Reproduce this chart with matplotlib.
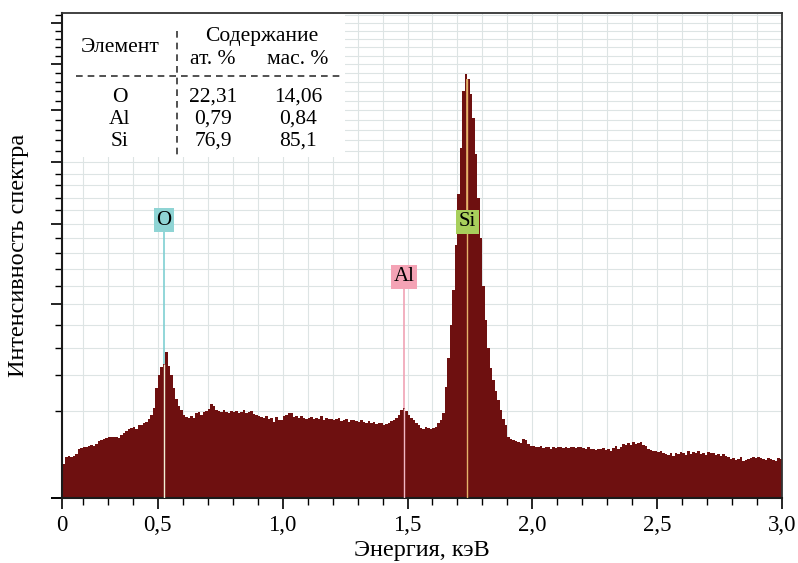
import numpy as np
import matplotlib.pyplot as plt
from matplotlib.patches import Rectangle
from matplotlib.lines import Line2D
from matplotlib.ticker import FixedLocator, MultipleLocator

plt.rcParams['font.family'] = ['Liberation Serif', 'DejaVu Serif']

# spectrum: counts per 0.01 keV bin, first bin starts at 0.11 keV
bin_start = 0.11
bin_width = 0.01
counts = [
    24, 30, 44, 46, 45, 47, 52, 64, 66,
    68, 70, 71, 74, 73, 77, 86, 91, 92, 95,
    99, 98, 100, 99, 97, 104, 113, 118, 126, 130,
    134, 128, 140, 142, 148, 155, 165, 185, 215, 320,
    400, 455, 480, 567, 460, 400, 320, 260, 225, 205,
    185, 176, 172, 180, 172, 190, 197, 185, 195, 200,
    210, 235, 225, 205, 200, 197, 205, 198, 192, 200,
    195, 200, 192, 197, 205, 190, 198, 200, 188, 182,
    180, 176, 170, 180, 168, 172, 155, 175, 160, 162,
    178, 185, 190, 193, 175, 180, 170, 178, 172, 168,
    170, 175, 165, 172, 168, 178, 162, 170, 165, 168,
    160, 166, 170, 158, 162, 168, 155, 160, 163, 158,
    155, 160, 152, 150, 156, 148, 152, 146, 150, 148,
    142, 145, 150, 158, 162, 170, 185, 205, 215, 200,
    185, 170, 160, 150, 140, 130, 128, 135, 132, 128,
    130, 135, 150, 162, 190, 330, 520, 800, 1150, 1700,
    2450, 3250, 4400, 4780, 4680, 4350, 3850, 3150, 2400, 1800,
    1200, 840, 600, 450, 370, 305, 255, 205, 168, 140,
    100, 92, 88, 86, 84, 80, 92, 88, 78, 72,
    72, 70, 68, 72, 66, 70, 68, 65, 70, 67,
    68, 70, 66, 69, 67, 70, 68, 66, 70, 69,
    66, 64, 68, 63, 65, 62, 64, 63, 66, 62,
    64, 60, 66, 72, 65, 70, 78, 75, 80, 76,
    82, 78, 80, 84, 76, 72, 64, 62, 60, 58,
    56, 60, 54, 52, 50, 55, 48, 54, 52, 56,
    54, 50, 58, 52, 56, 54, 58, 52, 55, 50,
    57, 53, 55, 50, 52, 48, 51, 47, 44, 40,
    42, 38, 40, 44, 36, 38, 40, 42, 45, 43,
    45, 42, 40, 38, 42, 40, 38, 36, 42, 40,
]

# element lines: name, energy (keV), label height (counts), colours
elements = ['O', 'Al', 'Si']
line_energy = [0.525, 1.486, 1.74]
label_y = [2055, 1300, 2026]
box_colors = ['#8fd4d4', '#f4a3b5', '#a8cf5c']
line_colors = ['#7fcfd2', '#f0a3b5', '#e2b26a']
inner_colors = ['#f3efd6', '#f2b7c4', '#e6b36a']

# table
tab_elements = ['O', 'Al', 'Si']
tab_at = ['22,31', '0,79', '76,9']
tab_mas = ['14,06', '0,84', '85,1']

xtick_vals = [0.116, 0.5, 1.0, 1.5, 2.0, 2.5, 3.0]
xtick_labels = ['0', '0,5', '1,0', '1,5', '2,0', '2,5', '3,0']

counts = np.array(counts, dtype=float)
edges = bin_start + bin_width * np.arange(len(counts) + 1)

fig = plt.figure(figsize=(7.98, 5.63), dpi=100)
ax = fig.add_axes([62 / 798, 1 - 498 / 563, 720 / 798, 485 / 563])

ax.set_yscale('function', functions=(lambda v: np.sqrt(np.clip(v, 0, None)), np.square))
ax.set_xlim(0.116, 3.0)
ax.set_ylim(0, 6256)

ax.stairs(counts, edges, fill=True, color='#6e1010', zorder=2)

for name, e, ly, bc, lc, ic in zip(elements, line_energy, label_y, box_colors, line_colors, inner_colors):
    i = int((e - bin_start) / bin_width)
    ax.vlines(e, counts[i], ly, color=lc, lw=1.2, zorder=3)
    ax.vlines(e, 0, counts[i], color=ic, lw=1.0, zorder=3)
    ax.text(e, ly, name, ha='center', va='center', fontsize=15, zorder=4,
            bbox=dict(boxstyle='square,pad=0.12', fc=bc, ec='none'))

# axes styling
ax.xaxis.set_major_locator(FixedLocator(xtick_vals))
ax.set_xticklabels(xtick_labels)
ax.xaxis.set_minor_locator(FixedLocator(np.arange(2, 30) / 10))
ax.yaxis.set_major_locator(MultipleLocator(1000))
ax.yaxis.set_minor_locator(MultipleLocator(200))
ax.set_yticklabels([])
ax.tick_params(axis='both', which='major', direction='out', length=8, width=1.2, labelsize=16.5)
ax.tick_params(axis='both', which='minor', direction='out', length=5, width=1.0)
ax.tick_params(axis='x', pad=4)
ax.grid(True, which='both', color='#dde4e4', lw=0.8)
ax.set_axisbelow(True)
for s in ['left', 'bottom']:
    ax.spines[s].set_linewidth(1.5)
    ax.spines[s].set_color('#1a1a1a')
for s in ['top', 'right']:
    ax.spines[s].set_linewidth(1.3)
    ax.spines[s].set_color('#333333')

ax.set_xlabel('Энергия, кэВ', fontsize=17.5, labelpad=3)
ax.set_ylabel('Интенсивность спектра', fontsize=17.5, labelpad=12)

# composition table in the upper-left corner
def fx(px):
    return px / 798

def fy(py):
    return 1 - py / 563

ax.add_patch(Rectangle((fx(63), fy(157)), fx(282), 143 / 563, transform=fig.transFigure,
                       fc='white', ec='none', zorder=2.5))
fig.add_artist(Line2D([fx(76), fx(340)], [fy(76), fy(76)], color='#333333', lw=1.2,
                      dashes=(4, 3)))
fig.add_artist(Line2D([fx(177), fx(177)], [fy(31), fy(156)], color='#333333', lw=1.2,
                      dashes=(4, 3)))
tkw = dict(ha='center', va='center', fontsize=15.5)
fig.text(fx(120), fy(47), 'Элемент', **tkw)
fig.text(fx(262), fy(37), 'Содержание', **tkw)
fig.text(fx(213), fy(60), 'ат. %', **tkw)
fig.text(fx(298), fy(60), 'мас. %', **tkw)
for k in range(len(tab_elements)):
    yy = fy(97 + 22 * k)
    fig.text(fx(120), yy, tab_elements[k], **tkw)
    fig.text(fx(213), yy, tab_at[k], **tkw)
    fig.text(fx(298), yy, tab_mas[k], **tkw)

fig.savefig('out.png', dpi=100)
